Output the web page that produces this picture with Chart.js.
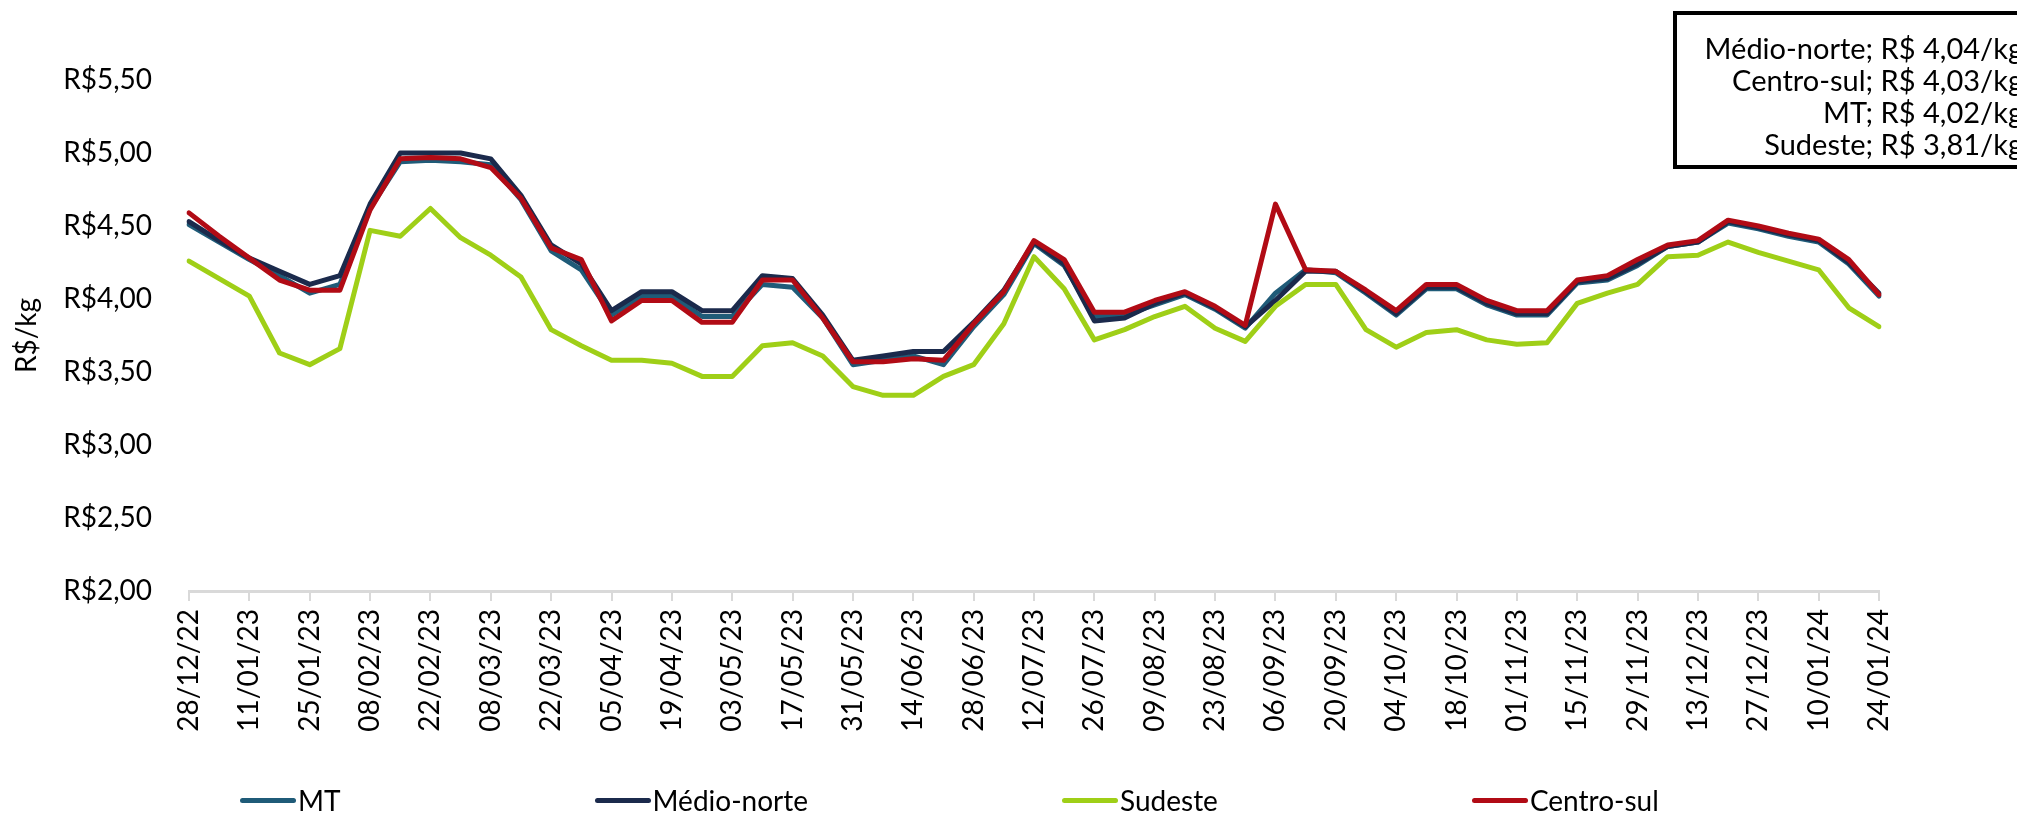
<!DOCTYPE html>
<html>
<head>
<meta charset="utf-8">
<script src="https://cdn.jsdelivr.net/npm/chart.js"></script>
<style>
  html, body { margin: 0; padding: 0; background: #fff; overflow: hidden; }
  #wrap { position: relative; width: 2017px; height: 816px; font-family: Lato, sans-serif; }
  #note {
    position: absolute; left: 1673px; right: -16px; top: 11px; height: 133px;
    border: 4px solid #000; box-sizing: content-box;
    padding: 17px 6px 0 0; text-align: right; font-size: 29px; line-height: 32px; color: #000;
  }
  #legenda { position: absolute; left: 240px; top: 783px; display: flex; gap: 254px; font-size: 28px; color: #000; }
  #legenda .item { display: flex; align-items: center; }
  #legenda .sw { display: inline-block; width: 56px; height: 5px; border-radius: 3px; margin-right: 2px; }
</style>
</head>
<body>
<div id="wrap">
  <canvas id="grafico" width="2017" height="816"></canvas>
  <div id="note">
    Médio-norte; R$ 4,04/kg<br>
    Centro-sul; R$ 4,03/kg<br>
    MT; R$ 4,02/kg<br>
    Sudeste; R$ 3,81/kg
  </div>
  <div id="legenda"></div>
</div>
<script>
// semanas (28/12/22 a 24/01/24)
const datas = [
  "28/12/22","04/01/23","11/01/23","18/01/23","25/01/23","01/02/23","08/02/23","15/02/23",
  "22/02/23","01/03/23","08/03/23","15/03/23","22/03/23","29/03/23","05/04/23","12/04/23",
  "19/04/23","26/04/23","03/05/23","10/05/23","17/05/23","24/05/23","31/05/23","07/06/23",
  "14/06/23","21/06/23","28/06/23","05/07/23","12/07/23","19/07/23","26/07/23","02/08/23",
  "09/08/23","16/08/23","23/08/23","30/08/23","06/09/23","13/09/23","20/09/23","27/09/23",
  "04/10/23","11/10/23","18/10/23","25/10/23","01/11/23","08/11/23","15/11/23","22/11/23",
  "29/11/23","06/12/23","13/12/23","20/12/23","27/12/23","03/01/24","10/01/24","17/01/24",
  "24/01/24"
];

const mt = [
  4.51,4.39,4.27,4.16,4.04,4.10,4.62,4.94,4.95,4.94,4.92,4.68,4.33,4.20,3.89,4.02,
  4.02,3.88,3.88,4.10,4.08,3.87,3.55,3.58,3.61,3.55,3.81,4.03,4.38,4.23,3.88,3.89,
  3.96,4.03,3.93,3.80,4.04,4.20,4.18,4.04,3.89,4.07,4.07,3.96,3.89,3.89,4.11,4.13,
  4.23,4.36,4.39,4.52,4.48,4.43,4.39,4.24,4.02
];
const medioNorte = [
  4.53,4.40,4.28,4.19,4.10,4.16,4.65,5.00,5.00,5.00,4.96,4.71,4.37,4.24,3.92,4.05,
  4.05,3.92,3.92,4.16,4.14,3.89,3.58,3.61,3.64,3.64,3.84,4.06,4.39,4.24,3.85,3.87,
  3.97,4.04,3.94,3.81,3.99,4.19,4.19,4.05,3.90,4.08,4.08,3.97,3.90,3.90,4.12,4.14,
  4.24,4.36,4.39,4.53,4.49,4.44,4.40,4.25,4.04
];
const sudeste = [
  4.26,4.14,4.02,3.63,3.55,3.66,4.47,4.43,4.62,4.42,4.30,4.15,3.79,3.68,3.58,3.58,
  3.56,3.47,3.47,3.68,3.70,3.61,3.40,3.34,3.34,3.47,3.55,3.83,4.29,4.07,3.72,3.79,
  3.88,3.95,3.80,3.71,3.95,4.10,4.10,3.79,3.67,3.77,3.79,3.72,3.69,3.70,3.97,4.04,
  4.10,4.29,4.30,4.39,4.32,4.26,4.20,3.94,3.81
];
const centroSul = [
  4.59,4.43,4.28,4.13,4.06,4.06,4.61,4.96,4.97,4.96,4.90,4.69,4.35,4.27,3.85,3.99,
  3.99,3.84,3.84,4.13,4.13,3.87,3.57,3.57,3.59,3.58,3.83,4.05,4.40,4.27,3.91,3.91,
  3.99,4.05,3.95,3.82,4.65,4.20,4.19,4.06,3.92,4.10,4.10,3.99,3.92,3.92,4.13,4.16,
  4.27,4.37,4.40,4.54,4.50,4.45,4.41,4.27,4.03
];

const series = [
  { nome: "MT", dados: mt, cor: "#1f5b78", ordem: 3 },
  { nome: "Médio-norte", dados: medioNorte, cor: "#1b2a4c", ordem: 2 },
  { nome: "Sudeste", dados: sudeste, cor: "#9fcf17", ordem: 1 },
  { nome: "Centro-sul", dados: centroSul, cor: "#b10b15", ordem: 0 }
];

window.addEventListener("load", function () {

    Chart.defaults.font.family = "Lato";
    Chart.defaults.font.size = 28;
    Chart.defaults.color = "#000";

    const ctx = document.getElementById("grafico").getContext("2d");

    new Chart(ctx, {
        type: "line",
        data: {
            labels: datas,
            datasets: series.map(s => ({
                label: s.nome,
                data: s.dados,
                borderColor: s.cor,
                backgroundColor: s.cor,
                borderWidth: 5,
                pointRadius: 0,
                tension: 0,
                borderJoinStyle: "round",
                borderCapStyle: "round",
                order: s.ordem
            }))
        },
        options: {
            responsive: false,
            animation: false,
            devicePixelRatio: 1,
            layout: { padding: { top: 80, right: 138, bottom: 65, left: 0 } },
            plugins: { legend: { display: false }, tooltip: { enabled: false } },
            scales: {
                x: {
                    offset: false,
                    afterFit: function (scale) { scale.height = 160; },
                    grid: { display: true, drawOnChartArea: false, drawTicks: true, tickLength: 10, color: "#d9d9d9", lineWidth: 2 },
                    border: { display: true, color: "#d9d9d9", width: 3 },
                    ticks: {
                        autoSkip: false, maxRotation: 90, minRotation: 90, padding: 8,
                        callback: function (v, i) { return i % 2 === 0 ? datas[i] : null; }
                    }
                },
                y: {
                    min: 2, max: 5.5,
                    afterFit: function (scale) { scale.width = 189; },
                    grid: { display: false, drawTicks: false },
                    border: { display: false },
                    ticks: {
                        stepSize: 0.5, padding: 37,
                        callback: function (v) { return "R$" + v.toFixed(2).replace(".", ","); }
                    },
                    title: { display: true, text: "R$/kg", padding: { top: 10, bottom: 0 } }
                }
            }
        }
    });

    // legenda embaixo
    const leg = document.getElementById("legenda");
    for (let s of series) {
        const it = document.createElement("div");
        it.className = "item";
        it.innerHTML = '<span class="sw" style="background:' + s.cor + '"></span>' + s.nome;
        leg.appendChild(it);
    }
});
</script>
</body>
</html>
